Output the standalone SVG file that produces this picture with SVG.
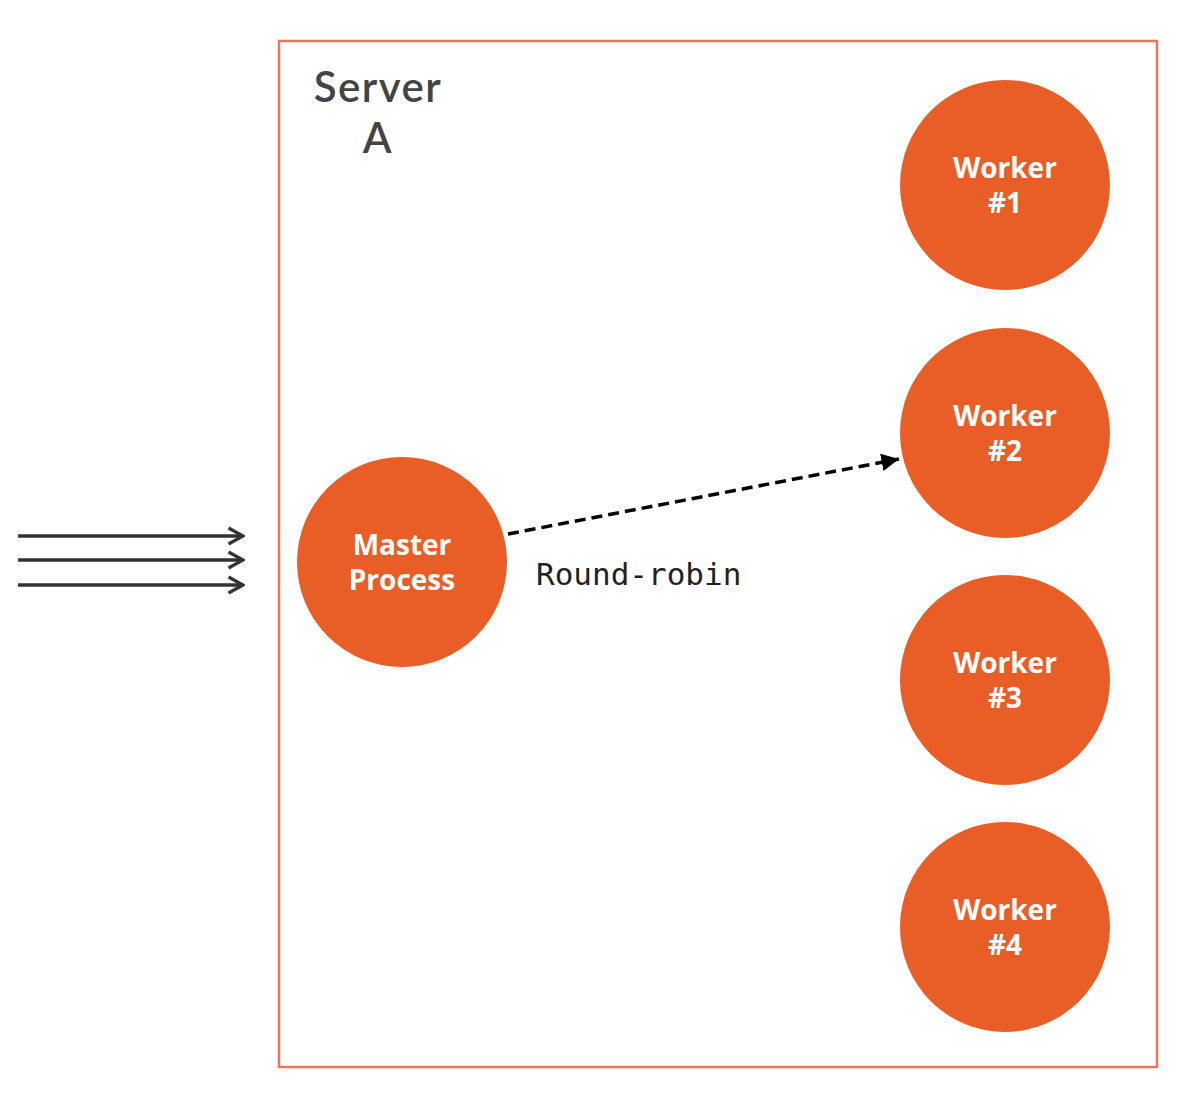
<svg xmlns="http://www.w3.org/2000/svg" width="1198" height="1094" viewBox="0 0 1198 1094">
<defs>
<style>
.node{fill:#E85E26}
.nl{font-family:"Open Sans","Liberation Sans",sans-serif;font-weight:bold;font-size:28px;fill:#fff;text-anchor:middle}
.in{stroke:#333;stroke-width:3.5;fill:none}
.title{font-family:Lato,"Open Sans","Liberation Sans",sans-serif;font-weight:600;font-size:42px;fill:#444;text-anchor:middle;letter-spacing:1.5px}
</style>
<marker id="open" viewBox="0 0 12 12" refX="11" refY="6" markerWidth="5.5" markerHeight="5.5" markerUnits="strokeWidth" orient="auto"><path d="M2,1 L11,6 L2,11" fill="none" stroke="#333" stroke-width="2"/></marker>
<marker id="tri" viewBox="0 0 10 10" refX="10" refY="5" markerWidth="5" markerHeight="5" markerUnits="strokeWidth" orient="auto"><path d="M0,0 L10,5 L0,10 z" fill="#000"/></marker>
</defs>
<rect width="1198" height="1094" fill="#fff"/>
<g id="server">
<rect x="279" y="41" width="878" height="1026" fill="none" stroke="#E8785A" stroke-width="2.5"/>
<text class="title" x="378" y="102">Server</text>
<text class="title" x="378" y="153">A</text>
</g>
<g id="master"><circle class="node" cx="402" cy="562" r="105"/><text class="nl" x="402" y="555">Master</text><text class="nl" x="402" y="590">Process</text></g>
<g id="worker1"><circle class="node" cx="1005" cy="185" r="105"/><text class="nl" x="1005" y="178">Worker</text><text class="nl" x="1005" y="213">#1</text></g>
<g id="worker2"><circle class="node" cx="1005" cy="433" r="105"/><text class="nl" x="1005" y="426">Worker</text><text class="nl" x="1005" y="461">#2</text></g>
<g id="worker3"><circle class="node" cx="1005" cy="680" r="105"/><text class="nl" x="1005" y="673">Worker</text><text class="nl" x="1005" y="708">#3</text></g>
<g id="worker4"><circle class="node" cx="1005" cy="927" r="105"/><text class="nl" x="1005" y="920">Worker</text><text class="nl" x="1005" y="955">#4</text></g>
<g id="connectors">
<line class="in" x1="18" y1="536" x2="243" y2="536" marker-end="url(#open)"/>
<line class="in" x1="18" y1="560" x2="243" y2="560" marker-end="url(#open)"/>
<line class="in" x1="18" y1="585" x2="243" y2="585" marker-end="url(#open)"/>
<line x1="508" y1="534" x2="899" y2="459" stroke="#000" stroke-width="3.5" stroke-dasharray="11,6" marker-end="url(#tri)"/>
<text x="536" y="585" font-family="'DejaVu Sans Mono','Liberation Mono',monospace" font-size="31" fill="#222">Round-robin</text>
</g>
</svg>
